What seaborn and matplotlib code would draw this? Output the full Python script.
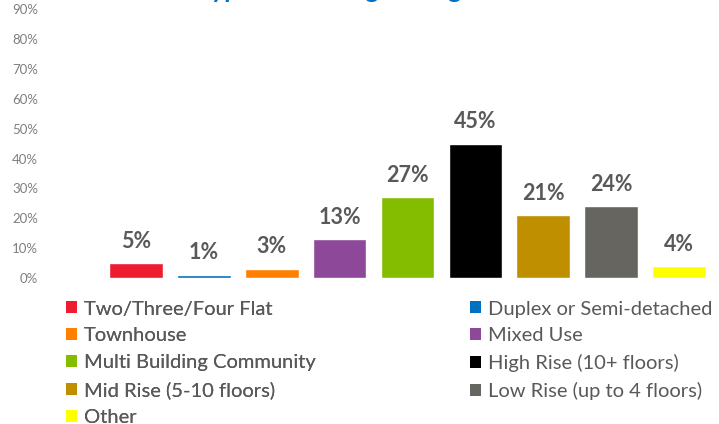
import matplotlib
matplotlib.use("Agg")
import matplotlib.pyplot as plt
import seaborn as sns
import pandas as pd
from matplotlib.patches import Patch

# data
categories = ["Two/Three/Four Flat", "Duplex or Semi-detached", "Townhouse", "Mixed Use",
              "Multi Building Community", "High Rise (10+ floors)", "Mid Rise (5-10 floors)",
              "Low Rise (up to 4 floors)", "Other"]
values = [5, 1, 3, 13, 27, 45, 21, 24, 4]
colors = ["#ED1C2E", "#0070C0", "#FF8000", "#8E4899", "#84BC00",
          "#000000", "#BF8F00", "#67655F", "#FFFF00"]
yticks = [0, 10, 20, 30, 40, 50, 60, 70, 80, 90]
title = "Type of Building Managed"

sns.set_style("white")
plt.rcParams["font.family"] = ["Lato", "DejaVu Sans"]

df = pd.DataFrame({"category": categories, "value": values})

W, H = 719, 424
fig = plt.figure(figsize=(W / 100, H / 100), dpi=100)
ax = fig.add_axes([102 / W, 1 - 277.7 / H, 611 / W, 268.2 / H])

sns.barplot(data=df, x="category", y="value", hue="category", palette=colors,
            order=categories, hue_order=categories, dodge=False, legend=False,
            width=0.79, saturation=1, ax=ax)

ax.set_xlim(-0.5, len(categories) - 0.5)
ax.set_ylim(0, 90)
ax.set_yticks(yticks)
ax.set_yticklabels([f"{t}%" for t in yticks], color="#7F7F7F", fontsize=9.5)
ax.tick_params(axis="y", length=0, pad=46)
ax.set_xticks([])
ax.set_xlabel("")
ax.set_ylabel("")
sns.despine(ax=ax, left=True, bottom=True)

# data labels
for i, v in enumerate(values):
    ax.annotate(f"{v}%", (i, v), xytext=(0, 11), textcoords="offset points",
                ha="center", va="baseline", fontsize=15.5, fontweight="bold",
                color="#595959")

# legend: two columns, filled row by row
handles = [Patch(facecolor=c, edgecolor="none") for c in colors]
leg_kw = dict(loc="upper left", frameon=False, fontsize=14.5, labelcolor="#595959",
              handlelength=0.55, handleheight=0.55, handletextpad=0.35,
              labelspacing=0.49, borderpad=0, borderaxespad=0)
left = [0, 2, 4, 6, 8]
right = [1, 3, 5, 7]
leg1 = fig.legend([handles[i] for i in left], [categories[i] for i in left],
                  bbox_to_anchor=(65.5 / W, 1 - 300.5 / H), **leg_kw)
fig.add_artist(leg1)
fig.legend([handles[i] for i in right], [categories[i] for i in right],
           bbox_to_anchor=(470 / W, 1 - 300.5 / H), **leg_kw)

# title sits mostly above the visible area, as in the reference
fig.text(342 / W, 1 + 2 / H, title, ha="center", va="baseline",
         fontsize=18, fontweight="bold", color="#0070C0")

fig.savefig("out.png", dpi=100)
